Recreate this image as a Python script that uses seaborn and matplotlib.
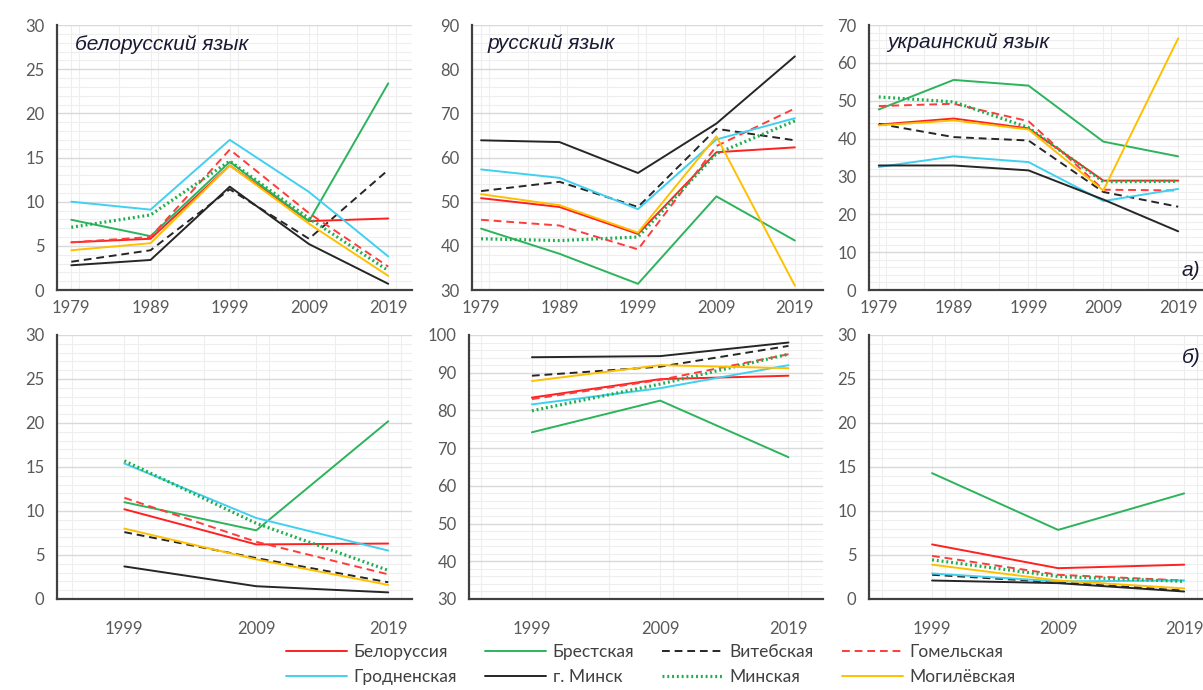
import pandas as pd
import matplotlib.pyplot as plt
import seaborn as sns
from matplotlib.ticker import MultipleLocator
from matplotlib.colors import to_hex

regions = ["Белоруссия", "Брестская", "Витебская", "Гомельская",
           "Гродненская", "г. Минск", "Минская", "Могилёвская"]
years_a = [1979, 1989, 1999, 2009, 2019]
years_b = [1999, 2009, 2019]

# а) перепись, родной язык (значения в порядке regions)
be_a = [[5.4, 5.8, 14.1, 7.8, 8.1],
        [7.95, 6.1, 14.5, 7.8, 23.4],
        [3.2, 4.5, 11.4, 5.8, 13.6],
        [5.4, 6.0, 15.9, 8.7, 2.65],
        [10.0, 9.1, 17.0, 11.1, 3.8],
        [2.8, 3.4, 11.7, 5.2, 0.7],
        [7.1, 8.5, 14.6, 8.1, 2.2],
        [4.5, 5.3, 14.1, 7.5, 1.6]]
ru_a = [[50.8, 48.8, 42.7, 61.2, 62.3],
        [43.9, 38.2, 31.4, 51.2, 41.2],
        [52.4, 54.5, 48.8, 66.5, 63.9],
        [45.9, 44.6, 39.2, 62.6, 71.1],
        [57.3, 55.4, 48.3, 64.1, 68.9],
        [63.9, 63.5, 56.5, 67.7, 82.9],
        [41.6, 41.2, 42.0, 60.9, 68.3],
        [51.7, 49.2, 43.0, 64.8, 31.0]]
uk_a = [[43.7, 45.3, 42.7, 28.9, 28.9],
        [47.7, 55.5, 54.0, 39.2, 35.3],
        [43.9, 40.4, 39.5, 25.9, 22.0],
        [48.6, 49.2, 44.6, 26.5, 26.3],
        [32.5, 35.3, 33.8, 23.5, 26.7],
        [32.9, 32.9, 31.6, 23.9, 15.5],
        [51.0, 49.7, 42.9, 28.6, 28.7],
        [43.5, 44.8, 42.4, 26.3, 66.5]]

# б) язык, на котором обычно говорят дома
be_b = [[10.2, 6.2, 6.3],
        [11.0, 7.8, 20.2],
        [7.6, 4.65, 1.9],
        [11.5, 6.5, 2.8],
        [15.4, 9.2, 5.5],
        [3.7, 1.45, 0.75],
        [15.7, 8.6, 3.25],
        [8.0, 4.5, 1.6]]
ru_b = [[83.4, 88.3, 89.2],
        [74.2, 82.6, 67.6],
        [89.2, 91.6, 97.1],
        [83.0, 88.1, 94.9],
        [81.6, 85.9, 92.0],
        [94.1, 94.4, 98.0],
        [79.9, 87.0, 94.9],
        [87.8, 92.0, 91.2]]
uk_b = [[6.2, 3.5, 3.9],
        [14.3, 7.85, 12.0],
        [2.75, 1.9, 0.95],
        [4.9, 2.75, 2.1],
        [2.9, 2.0, 2.1],
        [2.1, 1.8, 0.85],
        [4.45, 2.55, 2.0],
        [3.9, 2.1, 1.2]]

palette = {"Белоруссия": "#ff2020", "Брестская": "#2db35c", "Витебская": "#262626",
           "Гомельская": "#ff3b3b", "Гродненская": "#40d0f0", "г. Минск": "#262626",
           "Минская": "#1fae4f", "Могилёвская": "#ffc000"}
dashes = {"Белоруссия": "", "Брестская": "", "Витебская": (4, 2.5),
          "Гомельская": (4, 2.5), "Гродненская": "", "г. Минск": "",
          "Минская": (0.6, 0.9), "Могилёвская": ""}


def to_long(years, rows):
    recs = []
    for reg, vals in zip(regions, rows):
        for y, v in zip(years, vals):
            recs.append({"year": y, "value": v, "region": reg})
    return pd.DataFrame(recs)


def fatten_dots(lines):
    # пунктир "Минская" в оригинале заметно толще
    for ln in lines:
        if to_hex(ln.get_color()) == palette["Минская"]:
            ln.set_linewidth(2.3)


sns.set_style("white")
plt.rcParams['font.family'] = ['Lato', 'DejaVu Sans']

fig = plt.figure(figsize=(12.03, 6.9), dpi=100)

panels = [
    # left, bottom, width, height, years, data, ylim, ystep, minor, xlim
    (0.0474, 0.5797, 0.2951, 0.384, years_a, be_a, (0, 30), 5, 1, (1977.2, 2022)),
    (0.3924, 0.5797, 0.2918, 0.384, years_a, ru_a, (30, 90), 10, 2, (1977.85, 2022.6)),
    (0.7224, 0.5797, 0.2850, 0.384, years_a, uk_a, (0, 70), 10, 2, (1977.7, 2023.5)),
    (0.0474, 0.1319, 0.2951, 0.3826, years_b, be_b, (0, 30), 5, 1, (1993.9, 2020.8)),
    (0.3899, 0.1319, 0.2943, 0.3826, years_b, ru_b, (30, 100), 10, 2, (1994.1, 2021.7)),
    (0.7224, 0.1319, 0.2850, 0.3826, years_b, uk_b, (0, 30), 5, 1, (1994.0, 2021.2)),
]

axes = []
for i, (l, b, w, h, yrs, rows, ylim, ystep, minor, xlim) in enumerate(panels):
    ax = fig.add_axes([l, b, w, h])
    df = to_long(yrs, rows)
    sns.lineplot(data=df, x="year", y="value", hue="region", style="region",
                 hue_order=regions, style_order=regions, palette=palette,
                 dashes=dashes, linewidth=1.4, ax=ax, legend=(i == 0))
    fatten_dots(ax.lines)
    ax.set_xlim(*xlim)
    ax.set_ylim(*ylim)
    ax.set_xticks(yrs)
    ax.xaxis.set_minor_locator(MultipleLocator(5))
    ax.yaxis.set_major_locator(MultipleLocator(ystep))
    ax.yaxis.set_minor_locator(MultipleLocator(minor))
    ax.grid(which="major", axis="y", color="#d9d9d9", lw=1.0)
    ax.grid(which="minor", axis="y", color="#eeeeee", lw=0.8)
    ax.grid(which="both", axis="x", color="#eeeeee", lw=0.8)
    ax.set_axisbelow(True)
    for s in ["top", "right"]:
        ax.spines[s].set_visible(False)
    for s in ["left", "bottom"]:
        ax.spines[s].set_color("#404040")
        ax.spines[s].set_linewidth(1.6)
    xpad = 3 if i < 3 else 12
    ax.tick_params(axis="x", which="major", length=4, width=1, color="#404040",
                   labelsize=12, labelcolor="#595959", pad=xpad, direction="out")
    ax.tick_params(axis="y", which="major", length=4, width=1, color="#404040",
                   labelsize=12, labelcolor="#595959", pad=5, direction="out")
    ax.tick_params(which="minor", length=0)
    ax.set_xlabel("")
    ax.set_ylabel("")
    axes.append(ax)

handles, labels = axes[0].get_legend_handles_labels()
axes[0].get_legend().remove()
fatten_dots(handles)

title_kw = dict(fontsize=15, style="italic", color="#1a1a33", va="center",
                family=["Liberation Sans", "DejaVu Sans"])
axes[0].text(0.05, 0.925, "белорусский язык", transform=axes[0].transAxes, **title_kw)
axes[1].text(0.043, 0.93, "русский язык", transform=axes[1].transAxes, **title_kw)
axes[2].text(0.052, 0.935, "украинский язык", transform=axes[2].transAxes, **title_kw)
axes[2].text(0.912, 0.075, "а)", transform=axes[2].transAxes, **title_kw)
axes[5].text(0.912, 0.913, "б)", transform=axes[5].transAxes, **title_kw)

# legend: rows of 4, matplotlib fills column-wise
order = [0, 4, 1, 5, 2, 6, 3, 7]
fig.legend([handles[k] for k in order], [labels[k] for k in order],
           loc="lower center", bbox_to_anchor=(0.541, -0.016), ncol=4,
           frameon=False, fontsize=12.5, handlelength=3.5, columnspacing=1.6,
           labelspacing=0.55, handletextpad=0.4, labelcolor="#404040")

fig.savefig("out.png", dpi=100)
